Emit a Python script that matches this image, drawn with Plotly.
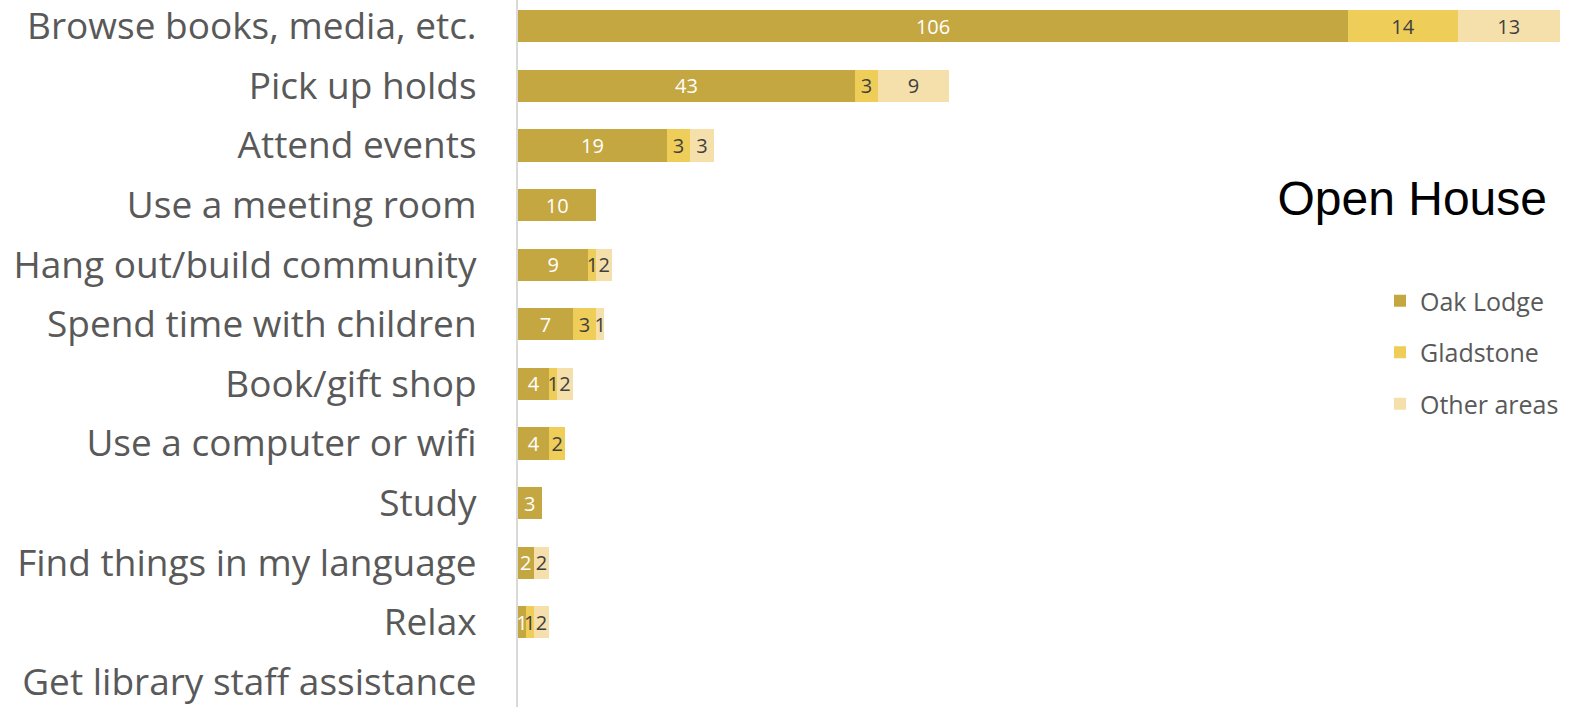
import plotly.graph_objects as go

categories = [
    "Browse books, media, etc.", "Pick up holds", "Attend events", "Use a meeting room",
    "Hang out/build community", "Spend time with children", "Book/gift shop",
    "Use a computer or wifi", "Study", "Find things in my language", "Relax",
    "Get library staff assistance",
]
oak_lodge = [106, 43, 19, 10, 9, 7, 4, 4, 3, 2, 1, 0]
gladstone = [14, 3, 3, 0, 1, 3, 1, 2, 0, 0, 1, 0]
other_areas = [13, 9, 3, 0, 2, 1, 2, 0, 0, 2, 2, 0]

series = [
    ("Oak Lodge", oak_lodge, "#C5A742", "#FFFFFF"),
    ("Gladstone", gladstone, "#EECD58", "#404040"),
    ("Other areas", other_areas, "#F5E0AC", "#404040"),
]

FONT = "Open Sans"
fig = go.Figure()
for i, (name, vals, color, tcolor) in enumerate(series):
    fig.add_trace(go.Bar(
        name=name, y=categories, x=vals, orientation="h",
        marker=dict(color=color, line=dict(width=0)),
        text=[str(v) if v else "" for v in vals],
        textposition="inside", insidetextanchor="middle", textangle=0,
        textfont=dict(family=FONT, size=20, color=tcolor),
        legendgroup=name,
        hoverinfo="skip",
    ))

fig.update_layout(
    barmode="stack",
    width=1580, height=707,
    margin=dict(l=518, r=0, t=0, b=0, autoexpand=False),
    plot_bgcolor="white", paper_bgcolor="white",
    bargap=0.46,
    uniformtext=dict(minsize=20, mode="show"),
    title=dict(text="Open House", x=1547/1580, xanchor="right", xref="container",
               y=1-198/707, yanchor="middle", yref="container",
               font=dict(family="Liberation Sans", size=48, color="#000000")),
    legend=dict(x=(1380-518)/1062, xref="paper", xanchor="left",
                y=1-278/707, yref="paper", yanchor="top",
                traceorder="grouped", tracegroupgap=16,
                font=dict(family=FONT, size=25, color="#595959"),
                bgcolor="rgba(0,0,0,0)"),
    xaxis=dict(range=[0, 135.6], autorange=False, visible=False, fixedrange=True),
    yaxis=dict(categoryorder="array", categoryarray=categories,
               range=[11.42, -0.44], autorange=False,
               showline=True, linecolor="#D9D9D9", linewidth=2,
               ticks="", ticklabelstandoff=32,
               tickfont=dict(family=FONT, size=37, color="#595959"),
               showgrid=False),
)
fig.write_html("out.html", config={"displayModeBar": False},
               post_script="document.body.style.margin='0';document.body.style.padding='0';")
